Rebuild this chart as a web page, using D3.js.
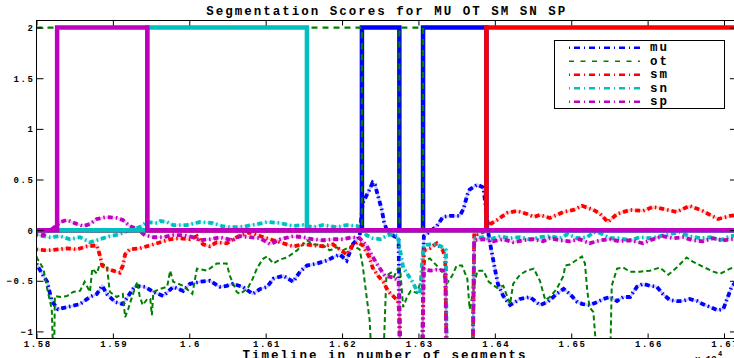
<!DOCTYPE html>
<html><head><meta charset="utf-8">
<script src="https://cdn.jsdelivr.net/npm/d3@7"></script>
<style>
body{margin:0;background:#fff;}
svg{display:block;}
text{font-family:"Liberation Mono","DejaVu Sans Mono",monospace;font-weight:bold;fill:#000;}
</style>
</head><body>
<svg id="chart" width="734" height="358"></svg>
<script>
// ---------------- DATA ----------------
const seriesNames = ["mu","ot","sm","sn","sp"];
const chartTitle = "Segmentation Scores for MU OT SM SN SP";
const xLabel = "Timeline in number of segments";
const xTicks = [15800,15900,16000,16100,16200,16300,16400,16500,16600,16700];
const xTickLabels = ["1.58","1.59","1.6","1.61","1.62","1.63","1.64","1.65","1.66","1.67"];
const yTicks = [-1,-0.5,0,0.5,1,1.5,2];
const yTickLabels = ["\u22121","\u22120.5","0","0.5","1","1.5","2"];

// continuous scores [segment, score]
const muScore = [[15800,-0.33],[15801,-0.35],[15809,-0.45],[15814,-0.51],[15820,-0.70],[15828,-0.78],[15840,-0.76],[15857,-0.73],[15870,-0.66],[15879,-0.63],[15886,-0.55],[15892,-0.63],[15903,-0.71],[15913,-0.73],[15922,-0.63],[15929,-0.55],[15942,-0.56],[15953,-0.61],[15966,-0.65],[15979,-0.56],[15992,-0.60],[16001,-0.53],[16014,-0.51],[16027,-0.50],[16040,-0.56],[16049,-0.55],[16057,-0.53],[16070,-0.56],[16083,-0.63],[16093,-0.58],[16102,-0.56],[16110,-0.48],[16123,-0.45],[16136,-0.51],[16145,-0.41],[16154,-0.35],[16167,-0.33],[16180,-0.30],[16188,-0.27],[16197,-0.24],[16206,-0.30],[16214,-0.14],[16220,-0.09],[16223,-0.06],[16227,0.27],[16236,0.40],[16240,0.47],[16243,0.45],[16247,0.34],[16252,0.20],[16255,0.08],[16259,-0.01],[16268,-0.06],[16274,-0.08],[16276,-1.3],[16305,-1.3],[16307,-0.06],[16324,0.04],[16332,0.13],[16341,0.14],[16354,0.14],[16359,0.21],[16364,0.35],[16367,0.40],[16377,0.45],[16385,0.42],[16390,0.11],[16392,-0.06],[16396,-0.22],[16400,-0.38],[16404,-0.53],[16411,-0.65],[16420,-0.74],[16433,-0.68],[16446,-0.66],[16459,-0.74],[16469,-0.71],[16481,-0.63],[16490,-0.58],[16498,-0.63],[16508,-0.71],[16515,-0.73],[16524,-0.74],[16534,-0.71],[16542,-0.68],[16551,-0.66],[16560,-0.70],[16568,-0.66],[16577,-0.66],[16586,-0.56],[16594,-0.53],[16603,-0.55],[16612,-0.56],[16620,-0.63],[16629,-0.69],[16638,-0.70],[16646,-0.70],[16655,-0.68],[16665,-0.70],[16672,-0.73],[16682,-0.76],[16691,-0.79],[16699,-0.78],[16704,-0.68],[16710,-0.56],[16717,-0.50]];

const otScore = [[15800,-0.26],[15801,-0.28],[15809,-0.38],[15814,-0.58],[15820,-0.78],[15822,-1.3],[15823,-1.3],[15824,-0.65],[15831,-0.66],[15840,-0.65],[15848,-0.61],[15857,-0.60],[15863,-0.51],[15870,-0.61],[15873,-0.38],[15879,-0.43],[15883,-0.33],[15892,-0.35],[15896,-0.61],[15905,-0.66],[15913,-0.63],[15916,-0.86],[15920,-0.78],[15925,-0.66],[15932,-0.51],[15935,-0.65],[15939,-0.74],[15945,-0.68],[15949,-0.68],[15951,-0.84],[15953,-0.61],[15962,-0.58],[15971,-0.56],[15975,-0.40],[15979,-0.51],[15992,-0.55],[16004,-0.63],[16010,-0.38],[16023,-0.40],[16036,-0.33],[16049,-0.33],[16053,-0.45],[16062,-0.61],[16066,-0.63],[16076,-0.58],[16083,-0.48],[16089,-0.37],[16097,-0.28],[16102,-0.26],[16110,-0.33],[16119,-0.29],[16128,-0.27],[16141,-0.20],[16154,-0.10],[16162,-0.14],[16175,-0.15],[16184,-0.20],[16193,-0.17],[16201,-0.20],[16214,-0.15],[16223,-0.19],[16227,-0.35],[16232,-0.65],[16236,-0.88],[16239,-1.3],[16254,-1.3],[16258,-0.45],[16264,-0.42],[16268,-0.46],[16273,-0.38],[16276,-0.38],[16280,-0.76],[16285,-0.66],[16290,-0.60],[16298,-0.62],[16302,-0.53],[16305,-0.38],[16309,-0.30],[16315,-0.28],[16324,-0.35],[16331,-0.41],[16337,-0.53],[16344,-0.45],[16350,-0.35],[16357,-0.35],[16364,-0.48],[16367,-0.78],[16371,-0.63],[16377,-0.40],[16385,-0.40],[16392,-0.51],[16403,-0.57],[16411,-0.55],[16420,-0.73],[16424,-0.53],[16433,-0.44],[16442,-0.40],[16451,-0.38],[16459,-0.50],[16466,-0.69],[16472,-0.66],[16481,-0.58],[16490,-0.45],[16492,-0.35],[16498,-0.34],[16508,-0.29],[16514,-0.26],[16518,-0.33],[16521,-0.60],[16524,-0.76],[16529,-0.81],[16534,-1.3],[16551,-1.3],[16553,-0.55],[16560,-0.38],[16568,-0.37],[16577,-0.41],[16590,-0.41],[16603,-0.40],[16616,-0.37],[16627,-0.44],[16638,-0.37],[16651,-0.27],[16659,-0.31],[16672,-0.36],[16686,-0.41],[16695,-0.43],[16708,-0.38],[16717,-0.36]];

const smScore = [[15800,-0.19],[15814,-0.20],[15828,-0.19],[15840,-0.18],[15853,-0.19],[15866,-0.16],[15879,-0.15],[15883,-0.25],[15886,-0.35],[15892,-0.38],[15900,-0.40],[15909,-0.42],[15913,-0.35],[15916,-0.24],[15922,-0.19],[15935,-0.18],[15949,-0.15],[15962,-0.12],[15975,-0.09],[15988,-0.08],[16001,-0.09],[16010,-0.06],[16018,-0.14],[16027,-0.16],[16036,-0.12],[16049,-0.13],[16062,-0.07],[16079,-0.02],[16097,-0.07],[16110,-0.10],[16123,-0.13],[16136,-0.16],[16149,-0.14],[16162,-0.15],[16175,-0.16],[16188,-0.14],[16197,-0.19],[16206,-0.24],[16214,-0.15],[16220,-0.12],[16227,-0.15],[16236,-0.27],[16240,-0.37],[16247,-0.45],[16254,-0.51],[16260,-0.60],[16268,-0.66],[16273,-0.70],[16275,-0.80],[16276,-1.3],[16305,-1.3],[16307,-0.20],[16315,-0.18],[16324,-0.13],[16332,-0.20],[16335,-0.27],[16337,-1.3],[16371,-1.3],[16373,-0.03],[16377,-0.04],[16387,-0.01],[16394,0.06],[16403,0.10],[16416,0.17],[16429,0.19],[16442,0.16],[16451,0.13],[16459,0.15],[16472,0.12],[16490,0.18],[16503,0.20],[16514,0.24],[16529,0.20],[16538,0.16],[16548,0.08],[16560,0.16],[16577,0.20],[16594,0.19],[16607,0.23],[16620,0.21],[16638,0.18],[16655,0.24],[16672,0.19],[16692,0.11],[16708,0.14],[16717,0.15]];

const snScore = [[15800,-0.05],[15818,-0.07],[15831,-0.06],[15844,-0.09],[15857,-0.07],[15870,-0.12],[15883,-0.09],[15896,-0.06],[15909,-0.04],[15922,0.00],[15935,0.03],[15945,0.08],[15958,0.07],[15962,0.09],[15971,0.08],[15979,0.05],[15997,0.05],[16014,0.08],[16031,0.07],[16043,0.04],[16053,0.03],[16066,0.03],[16083,0.05],[16102,0.08],[16119,0.07],[16136,0.04],[16149,0.05],[16162,0.03],[16175,0.05],[16193,0.03],[16206,0.05],[16220,0.04],[16227,0.00],[16232,-0.05],[16240,-0.08],[16250,-0.09],[16260,-0.05],[16268,-0.04],[16273,-0.06],[16276,-0.20],[16280,-0.37],[16287,-0.45],[16293,-0.52],[16298,-0.60],[16302,-0.63],[16305,-0.30],[16307,-0.15],[16315,-0.14],[16324,-0.14],[16332,-0.17],[16336,-0.20],[16337,-1.3],[16371,-1.3],[16373,-0.08],[16385,-0.07],[16394,-0.09],[16407,-0.06],[16420,-0.08],[16433,-0.07],[16446,-0.09],[16459,-0.07],[16472,-0.06],[16485,-0.08],[16495,-0.04],[16508,-0.08],[16521,-0.07],[16529,-0.02],[16538,-0.03],[16551,-0.08],[16563,-0.08],[16577,-0.10],[16590,-0.07],[16603,-0.08],[16616,-0.06],[16629,-0.04],[16642,-0.02],[16655,-0.06],[16669,-0.08],[16682,-0.07],[16695,-0.10],[16708,-0.06],[16717,-0.05]];

const spScore = [[15800,-0.04],[15809,-0.05],[15818,0.00],[15822,0.02],[15831,0.08],[15840,0.10],[15853,0.06],[15861,0.04],[15870,0.06],[15879,0.11],[15892,0.13],[15905,0.12],[15913,0.10],[15922,0.04],[15932,0.01],[15942,-0.05],[15953,-0.07],[15966,-0.07],[15979,-0.05],[15992,-0.05],[16005,-0.07],[16014,-0.10],[16027,-0.09],[16040,-0.07],[16057,-0.10],[16066,-0.06],[16079,-0.07],[16093,-0.08],[16106,-0.14],[16119,-0.09],[16136,-0.06],[16149,-0.07],[16162,-0.09],[16175,-0.10],[16188,-0.09],[16201,-0.09],[16214,-0.07],[16223,-0.08],[16232,-0.15],[16239,-0.25],[16247,-0.35],[16256,-0.45],[16268,-0.47],[16274,-0.50],[16276,-1.3],[16305,-1.3],[16307,-0.38],[16315,-0.40],[16324,-0.39],[16335,-0.40],[16337,-1.3],[16371,-1.3],[16373,-0.10],[16385,-0.09],[16398,-0.11],[16411,-0.09],[16424,-0.12],[16437,-0.10],[16451,-0.09],[16463,-0.11],[16472,-0.08],[16485,-0.10],[16498,-0.11],[16511,-0.09],[16524,-0.13],[16538,-0.10],[16551,-0.09],[16563,-0.11],[16577,-0.10],[16594,-0.13],[16607,-0.09],[16620,-0.06],[16633,-0.08],[16646,-0.07],[16659,-0.10],[16672,-0.11],[16686,-0.08],[16699,-0.10],[16710,-0.09],[16717,-0.09]];

// segmentation steps [segment where level starts, level]
const muSeg = [[15800,0],[16226,2],[16275,0],[16306,2],[16389,0],[16717,0]];
const otSeg = [[15800,2],[16226,0],[16275,2],[16306,0],[16717,0]];
const smSeg = [[15800,0],[16389,2],[16717,2]];
const snSeg = [[15800,0],[15945,2],[16154,0],[16717,0]];
const spSeg = [[15800,0],[15827,2],[15945,0],[16717,0]];

// ---------------- DRAW ----------------
const scores = {mu:muScore, ot:otScore, sm:smScore, sn:snScore, sp:spScore};
const segs = {mu:muSeg, ot:otSeg, sm:smSeg, sn:snSeg, sp:spSeg};
const colors = {mu:"#0000ff", ot:"#008000", sm:"#ff0000", sn:"#00bfbf", sp:"#bf00bf"};

const svg = d3.select("#chart");
const L = 36.5, R = 737, T = 20.5, B = 338.5;
const x = d3.scaleLinear().domain([15800,16717]).range([L,R]);
const y = d3.scaleLinear().domain([-1.07,2.07]).range([B,T]);

svg.append("defs").append("clipPath").attr("id","clip")
  .append("rect").attr("x",L).attr("y",T).attr("width",R-L).attr("height",B-T);

const plot = svg.append("g").attr("clip-path","url(#clip)");
const line = d3.line().x(d=>x(d[0])).y(d=>y(d[1]));
const stepLine = d3.line().x(d=>x(d[0])).y(d=>y(d[1])).curve(d3.curveStepAfter);

seriesNames.forEach(n=>{
  if(n==="ot"){
    plot.append("path").datum(scores[n]).attr("d",line)
      .attr("fill","none").attr("stroke",colors[n]).attr("stroke-width",2)
      .attr("stroke-dasharray","5,3");
  } else {
    plot.append("path").datum(scores[n]).attr("d",line)
      .attr("fill","none").attr("stroke",colors[n]).attr("stroke-width",2.5)
      .attr("stroke-opacity",0.22);
    plot.append("path").datum(scores[n]).attr("d",line)
      .attr("fill","none").attr("stroke",colors[n]).attr("stroke-width",3.8)
      .attr("stroke-dasharray","1.5,3,5,3");
  }
});
seriesNames.forEach(n=>{
  const p = plot.append("path").datum(segs[n]).attr("d",stepLine)
    .attr("fill","none").attr("stroke",colors[n]);
  if(n==="ot") p.attr("stroke-width",2.2).attr("stroke-dasharray","6,5");
  else p.attr("stroke-width",4.5);
});

// axes
const tickFont = g => g.selectAll("text").style("font-size","9px").style("letter-spacing","1.6px");
svg.append("g").attr("transform",`translate(0,${B})`)
  .call(d3.axisBottom(x).tickValues(xTicks).tickFormat((d,i)=>xTickLabels[i]).tickSize(-5).tickSizeOuter(0).tickPadding(2))
  .call(g=>g.select(".domain").remove())
  .call(tickFont)
  .call(g=>g.selectAll("text").attr("dx","0.8px"));
svg.append("g").attr("transform",`translate(0,${T})`)
  .call(d3.axisTop(x).tickValues(xTicks).tickFormat("").tickSize(-5).tickSizeOuter(0))
  .call(g=>g.select(".domain").remove());
svg.append("g").attr("transform",`translate(${L},0)`)
  .call(d3.axisLeft(y).tickValues(yTicks).tickFormat((d,i)=>yTickLabels[i]).tickSize(-7).tickSizeOuter(0).tickPadding(2))
  .call(g=>g.select(".domain").remove())
  .call(tickFont);
svg.append("g").attr("transform",`translate(${R},0)`)
  .call(d3.axisRight(y).tickValues(yTicks).tickFormat("").tickSize(-7).tickSizeOuter(0))
  .call(g=>g.select(".domain").remove());
svg.selectAll(".tick line").attr("stroke","#000");
svg.append("rect").attr("x",L).attr("y",T).attr("width",R-L).attr("height",B-T)
  .attr("fill","none").attr("stroke","#000").attr("stroke-width",1);

// titles
svg.append("text").attr("x",(L+R)/2).attr("y",14.7).attr("text-anchor","middle")
  .style("font-size","12.5px").style("letter-spacing","2px").text(chartTitle);
svg.append("text").attr("x",385).attr("y",358.5).attr("text-anchor","middle")
  .style("font-size","12.5px").style("letter-spacing","2px").text(xLabel);
svg.append("text").attr("x",695).attr("y",362).style("font-size","9px").text("x 10");
svg.append("text").attr("x",718).attr("y",356).style("font-size","7px").text("4");

// legend
const lg = svg.append("g");
lg.append("rect").attr("x",554.5).attr("y",40.5).attr("width",170).attr("height",68)
  .attr("fill","#fff").attr("stroke","#000").attr("stroke-width",1);
seriesNames.forEach((n,i)=>{
  const yy = 47.7 + i*13.5;
  const l = lg.append("line").attr("x1",569).attr("x2",640).attr("y1",yy).attr("y2",yy)
    .attr("stroke",colors[n]);
  if(n==="ot") l.attr("stroke-width",1.6).attr("stroke-dasharray","5,6.5");
  else l.attr("stroke-width",2.4).attr("stroke-dasharray","1,4,6,4");
  lg.append("text").attr("x",650).attr("y",yy+3.5).style("font-size","12.5px")
    .style("letter-spacing","2px").text(n);
});
</script>
</body></html>
